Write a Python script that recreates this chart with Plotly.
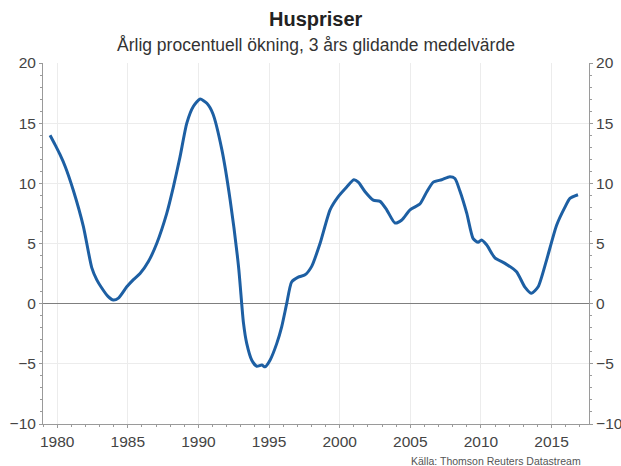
import plotly.graph_objects as go

years = [1979.5, 1979.86, 1980.2, 1980.57, 1981.15, 1981.86, 1982.45, 1982.8, 1983.16, 1983.6, 1983.98,
         1984.34, 1984.93, 1985.4, 1985.87, 1986.46, 1987.05, 1987.76, 1988.23, 1988.7, 1989.18,
         1989.65, 1990.12, 1990.6, 1991.02, 1991.66, 1992.25, 1992.84, 1993.19, 1993.42, 1993.78,
         1994.13, 1994.49, 1994.72, 1995.07, 1995.55, 1995.9, 1996.25, 1996.6, 1997.07, 1997.55,
         1998.02, 1998.61, 1999.32, 1999.9, 2000.5, 2001.0, 2001.32, 2001.8, 2002.38, 2002.86,
         2003.33, 2003.92, 2004.4, 2004.98, 2005.69, 2006.17, 2006.63, 2007.22, 2007.8, 2008.16,
         2008.5, 2009.0, 2009.45, 2009.8, 2010.04, 2010.4, 2010.99, 2011.7, 2012.52, 2013.1,
         2013.58, 2014.05, 2014.64, 2015.35, 2015.94, 2016.3, 2016.87]
values = [14.0, 13.2, 12.4, 11.4, 9.4, 6.4, 3.0, 2.0, 1.3, 0.6, 0.3,
          0.46, 1.4, 2.0, 2.5, 3.5, 5.0, 7.5, 9.7, 12.2, 15.0,
          16.4, 17.0, 16.65, 15.8, 12.8, 8.6, 3.1, -1.6, -3.3, -4.7,
          -5.2, -5.1, -5.25, -4.7, -3.3, -1.9, 0.0, 1.8, 2.2, 2.4,
          3.1, 5.0, 7.8, 8.9, 9.7, 10.3, 10.1, 9.3, 8.6, 8.5,
          7.8, 6.7, 6.95, 7.8, 8.3, 9.3, 10.1, 10.3, 10.55, 10.4,
          9.4, 7.5, 5.4, 5.1, 5.3, 4.9, 3.8, 3.35, 2.65, 1.4,
          0.86, 1.4, 3.6, 6.5, 8.0, 8.75, 9.05]

title_text = "<b>Huspriser</b>"
subtitle_text = "Årlig procentuell ökning, 3 års glidande medelvärde"
source_text = "Källa: Thomson Reuters Datastream"
x_ticks = [1980, 1985, 1990, 1995, 2000, 2005, 2010, 2015]
y_ticks = [-10, -5, 0, 5, 10, 15, 20]

FONT = "Liberation Sans, Arial, sans-serif"
LINE = "#1d5fa3"
AXIS = "#9a9a9a"
GRID = "#ececec"
TXT = "#444444"

fig = go.Figure()
fig.add_trace(go.Scatter(x=years, y=values, mode="lines",
                         line=dict(color=LINE, width=3, shape="spline", smoothing=0.6),
                         hoverinfo="skip", showlegend=False))
fig.add_trace(go.Scatter(x=[years[0]], y=[values[0]], yaxis="y2", mode="markers",
                         marker=dict(opacity=0), hoverinfo="skip", showlegend=False))

yax = dict(range=[-10, 20], tickvals=y_ticks, showgrid=True, gridcolor=GRID, gridwidth=1,
           showline=True, linecolor=AXIS, linewidth=1, ticks="outside", ticklen=3,
           tickcolor=AXIS, tickfont=dict(family=FONT, size=15.5, color=TXT),
           minor=dict(dtick=1, tick0=0, ticks="outside", ticklen=2, tickcolor=AXIS, showgrid=False),
           zeroline=True, zerolinecolor="#7f7f7f", zerolinewidth=1, fixedrange=True,
           automargin=False)

fig.update_layout(
    width=621, height=466,
    margin=dict(l=43, r=32, t=63, b=42),
    paper_bgcolor="white", plot_bgcolor="white",
    xaxis=dict(range=[1979.0, 2017.65], tickvals=x_ticks, showgrid=True, gridcolor=GRID,
               showline=True, linecolor=AXIS, linewidth=1, ticks="outside", ticklen=3,
               tickcolor=AXIS, tickfont=dict(family=FONT, size=15.5, color=TXT),
               minor=dict(dtick=1, tick0=1980, ticks="outside", ticklen=2, tickcolor=AXIS, showgrid=False),
               zeroline=False, automargin=False, fixedrange=True),
    yaxis=yax,
    yaxis2=dict(yax, overlaying="y", side="right", showgrid=False, zeroline=False),
    annotations=[
        dict(text=title_text, x=0.5, y=(424 - 19) / 361, xref="paper", yref="paper",
             xanchor="center", yanchor="middle", showarrow=False,
             font=dict(family=FONT, size=20, color="#222222")),
        dict(text=subtitle_text, x=0.5, y=(424 - 45) / 361, xref="paper", yref="paper",
             xanchor="center", yanchor="middle", showarrow=False,
             font=dict(family=FONT, size=17.5, color="#333333")),
        dict(text=source_text, x=(583 - 43) / 546, y=(424 - 461) / 361, xref="paper", yref="paper",
             xanchor="right", yanchor="middle", showarrow=False,
             font=dict(family=FONT, size=10.5, color="#555555")),
    ],
)
fig.write_html("out.html", config={"displayModeBar": False},
               post_script="document.body.style.margin='0';document.body.style.padding='0';")
